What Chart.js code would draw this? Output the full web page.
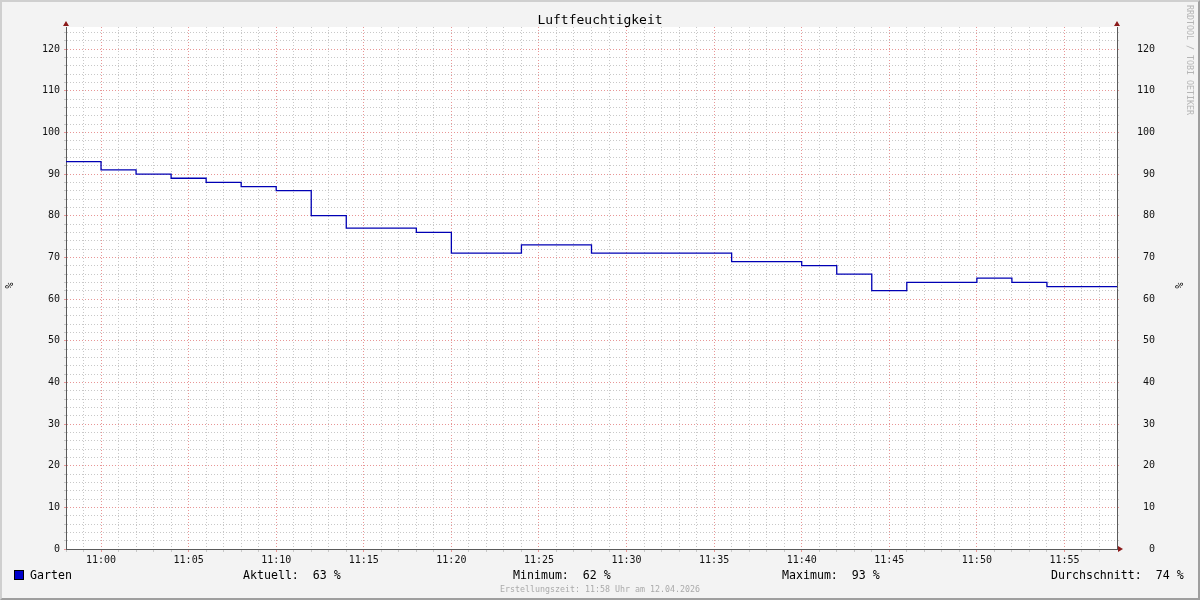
<!DOCTYPE html>
<html><head><meta charset="utf-8">
<script src="https://cdn.jsdelivr.net/npm/chart.js@4/dist/chart.umd.min.js"></script>
<style>
html,body{margin:0;padding:0;background:#f3f3f3;}
#wrap{position:relative;width:1200px;height:600px;overflow:hidden;font-family:'DejaVu Sans Mono',monospace;}
#c{position:absolute;left:0;top:0;}
.t{position:absolute;white-space:pre;color:#000;}
#frame{position:absolute;left:0;top:0;width:1196px;height:596px;border-top:2px solid #cfcfcf;border-left:2px solid #cfcfcf;border-right:2px solid #9e9e9e;border-bottom:2px solid #9e9e9e;pointer-events:none;}
</style></head>
<body><div id="wrap">
<canvas id="c" width="1200" height="600"></canvas>
<div class="t" id="title" style="left:0;width:1200px;top:12px;text-align:center;font-size:13px;">Luftfeuchtigkeit</div>
<div class="t" style="left:3px;top:280px;font-size:10px;transform:rotate(-90deg);transform-origin:center;width:12px;text-align:center;">%</div>
<div class="t" style="left:1173px;top:280px;font-size:10px;transform:rotate(-90deg);transform-origin:center;width:12px;text-align:center;">%</div>
<div class="t" style="left:1135px;top:55px;width:110px;font-size:8.3px;color:#b5b5b5;transform:rotate(90deg);transform-origin:center;text-align:left;">RRDTOOL / TOBI OETIKER</div>
<div style="position:absolute;left:14px;top:570px;width:8px;height:8px;background:#0000cc;border:1px solid #000;"></div>
<div class="t" style="left:30px;top:568px;font-size:11.6px;">Garten</div>
<div class="t" style="left:243px;top:568px;font-size:11.6px;">Aktuell:  63 %</div>
<div class="t" style="left:513px;top:568px;font-size:11.6px;">Minimum:  62 %</div>
<div class="t" style="left:782px;top:568px;font-size:11.6px;">Maximum:  93 %</div>
<div class="t" style="left:1051px;top:568px;font-size:11.6px;">Durchschnitt:  74 %</div>
<div class="t" style="left:0;width:1200px;top:584px;text-align:center;font-size:8.3px;color:#aaaaaa;">Erstellungszeit: 11:58 Uhr am 12.04.2026</div>
<div id="frame"></div>
</div>
<script>
// ---- data ----
const times = ['10:58','11:00','11:02','11:04','11:06','11:08','11:10','11:12','11:14','11:16','11:18','11:20','11:22','11:24','11:26','11:28','11:30','11:32','11:34','11:36','11:38','11:40','11:42','11:44','11:46','11:48','11:50','11:52','11:54','11:56','11:58'];
const humidity = [93,91,90,89,88,87,86,80,77,77,76,71,71,73,73,71,71,71,71,69,69,68,66,62,64,64,65,64,63,63,63];
const seriesName = 'Garten';
const xStart = '10:58', xEnd = '11:58';
const yMin = 0, yMax = 125.3;
const xMinorStep = 1, xMajorStep = 5;   // minutes
const yMinorStep = 2, yMajorStep = 10;  // percent

function toMin(s){const p=s.split(':');return (+p[0])*60+(+p[1]);}
function fmt(m){const h=Math.floor(m/60),mm=Math.round(m%60);return String(h).padStart(2,'0')+':'+String(mm).padStart(2,'0');}
const points = times.map((t,i)=>({x:toMin(t),y:humidity[i]}));

function stepTicks(lo,hi,step){const out=[];for(let v=Math.ceil(lo/step)*step;v<=hi+1e-9;v+=step)out.push({value:v});return out;}

const MINOR='rgba(200,200,200,1)', MAJOR='rgba(232,150,150,1)', AXIS='#5a5a5a', ARROW='#8b1a1a';
const font={family:'DejaVu Sans Mono',size:10};

const bgPlugin={id:'bg',beforeDraw(ch){const a=ch.chartArea,c=ch.ctx;c.save();c.fillStyle='#ffffff';c.fillRect(a.left,a.top,a.right-a.left,a.bottom-a.top);c.restore();},
afterDraw(ch){const a=ch.chartArea,c=ch.ctx;c.save();c.fillStyle=ARROW;
 const tri=(pts)=>{c.beginPath();c.moveTo(pts[0],pts[1]);c.lineTo(pts[2],pts[3]);c.lineTo(pts[4],pts[5]);c.closePath();c.fill();};
 tri([a.left-3,a.top-1,a.left+3,a.top-1,a.left,a.top-6]);
 tri([a.right-3,a.top-1,a.right+3,a.top-1,a.right,a.top-6]);
 tri([a.right+1,a.bottom-3,a.right+1,a.bottom+3,a.right+6,a.bottom]);
 c.restore();}};

const isMajX=v=>Math.abs(v%xMajorStep)<1e-9, isMajY=v=>Math.abs(v%yMajorStep)<1e-9;

new Chart(document.getElementById('c'),{
 type:'line',
 data:{datasets:[{label:seriesName,data:points,stepped:true,borderColor:'#0000b4',borderWidth:1.3,pointRadius:0,fill:false,tension:0}]},
 options:{
  responsive:false,animation:false,
  layout:{padding:{top:27,right:45,left:0,bottom:0}},
  plugins:{legend:{display:false},title:{display:false},tooltip:{enabled:false}},
  scales:{
   x:{type:'linear',min:toMin(xStart),max:toMin(xEnd),
      afterFit(s){s.height=51;},
      afterBuildTicks(s){s.ticks=stepTicks(toMin(xStart),toMin(xEnd)-1,xMinorStep);},
      ticks:{autoSkip:false,maxRotation:0,font,color:'#111',padding:2,
        callback:(v)=>isMajX(v)?fmt(v):''},
      grid:{color:(ctx)=>{const v=ctx.tick?ctx.tick.value:0; if(v===toMin(xStart))return 'rgba(0,0,0,0)'; return isMajX(v)?MAJOR:MINOR;},
        tickColor:(ctx)=>{const v=ctx.tick?ctx.tick.value:0;return isMajX(v)?MAJOR:MINOR;},tickLength:3,lineWidth:1},
      border:{color:AXIS,width:1,dash:[1,2]}},
   y:{position:'left',min:yMin,max:yMax,
      afterFit(s){s.width=66;},
      afterBuildTicks(s){s.ticks=stepTicks(yMin,yMax,yMinorStep);},
      ticks:{autoSkip:false,font,color:'#111',padding:4,
        callback:(v)=>isMajY(v)?String(v):''},
      grid:{color:(ctx)=>{const v=ctx.tick?ctx.tick.value:0; if(v===0)return 'rgba(0,0,0,0)'; return isMajY(v)?MAJOR:MINOR;},
        tickColor:(ctx)=>{const v=ctx.tick?ctx.tick.value:0;return isMajY(v)?MAJOR:MINOR;},tickLength:2,lineWidth:1},
      border:{color:AXIS,width:1,dash:[1,2]}},
   y2:{position:'right',min:yMin,max:yMax,
      afterFit(s){s.width=38;},
      afterBuildTicks(s){s.ticks=stepTicks(yMin,yMax,yMinorStep);},
      ticks:{autoSkip:false,font,color:'#111',padding:4,crossAlign:'far',
        callback:(v)=>isMajY(v)?String(v):''},
      grid:{drawOnChartArea:false,tickColor:(ctx)=>{const v=ctx.tick?ctx.tick.value:0;return isMajY(v)?MAJOR:MINOR;},tickLength:2},
      border:{color:AXIS,width:1}}
  }
 },
 plugins:[bgPlugin]
});
</script>
</body></html>
